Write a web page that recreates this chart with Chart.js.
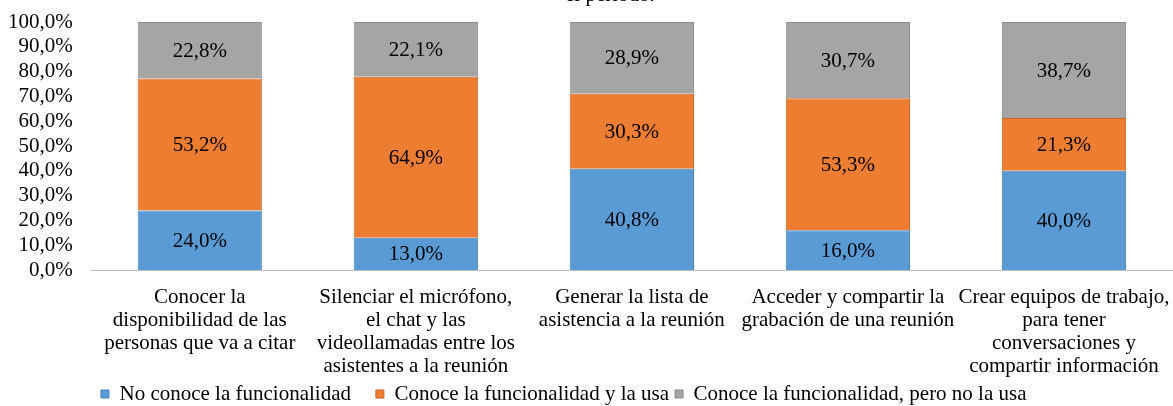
<!DOCTYPE html>
<html>
<head>
<meta charset="utf-8">
<script src="https://cdn.jsdelivr.net/npm/chart.js@4/dist/chart.umd.min.js"></script>
<style>
  html, body { margin: 0; padding: 0; background: #fff; overflow: hidden; }
  #wrap { position: relative; width: 1173px; height: 406px; overflow: hidden; }
  #title { position: absolute; left: 565px; top: -16px; line-height: 21px; white-space: nowrap;
           font-family: "Liberation Serif", serif; font-size: 21px; color: #000; }
  canvas { position: absolute; left: 0; top: 0; }
</style>
</head>
<body>
<div id="wrap">
  <canvas id="c" width="1173" height="406"></canvas>
  <div id="title">el periodo.</div>
</div>
<script>
const categories = [
  ["Conocer la", "disponibilidad de las", "personas que va a citar"],
  ["Silenciar el micrófono,", "el chat y las", "videollamadas entre los", "asistentes a la reunión"],
  ["Generar la lista de", "asistencia a la reunión"],
  ["Acceder y compartir la", "grabación de una reunión"],
  ["Crear equipos de trabajo,", "para tener", "conversaciones y", "compartir información"]
];
const seriesNames = ["No conoce la funcionalidad", "Conoce la funcionalidad y la usa", "Conoce la funcionalidad, pero no la usa"];
const noConoce = [24.0, 13.0, 40.8, 16.0, 40.0];
const conoceUsa = [53.2, 64.9, 30.3, 53.3, 21.3];
const conoceNoUsa = [22.8, 22.1, 28.9, 30.7, 38.7];
const yTicks = [0, 10, 20, 30, 40, 50, 60, 70, 80, 90, 100];

const FONT = "'Liberation Serif', 'Times New Roman', serif";
const FS = 21;
const fmt = v => v.toFixed(1).replace('.', ',') + '%';
const legendGap = ['\u2002\u2009\u2009', '', '\u2002\u2002\u2002\u2002\u2002'];

const labelPlugin = {
  id: 'segLabels',
  afterDatasetsDraw(chart) {
    const ctx = chart.ctx;
    ctx.save();
    ctx.font = FS + "px " + FONT;
    ctx.fillStyle = '#000';
    ctx.textAlign = 'center';
    ctx.textBaseline = 'middle';
    chart.data.datasets.forEach((ds, i) => {
      const meta = chart.getDatasetMeta(i);
      meta.data.forEach((el, j) => {
        const y = (el.y + el.base) / 2;
        ctx.fillText(fmt(ds.data[j]), el.x, y + 1);
      });
    });
    ctx.restore();
  }
};

new Chart(document.getElementById('c'), {
  type: 'bar',
  data: {
    labels: categories,
    datasets: [
      { label: seriesNames[0], data: noConoce, backgroundColor: '#5B9BD5', borderColor: '#4A82B6', borderWidth: 1 },
      { label: seriesNames[1], data: conoceUsa, backgroundColor: '#ED7D31', borderColor: '#C96624', borderWidth: 1 },
      { label: seriesNames[2], data: conoceNoUsa, backgroundColor: '#A5A5A5', borderColor: '#8A8A8A', borderWidth: 1 }
    ]
  },
  options: {
    responsive: false,
    animation: false,
    layout: { padding: { left: 8, right: 1, top: 22, bottom: -8.5 } },
    datasets: { bar: { categoryPercentage: 1, barPercentage: 0.575 } },
    plugins: {
      legend: {
        position: 'bottom',
        labels: {
          boxWidth: 8, boxHeight: 8, padding: 6,
          color: '#000',
          font: { family: FONT, size: FS },
          generateLabels(chart) {
            const items = Chart.defaults.plugins.legend.labels.generateLabels(chart);
            items.forEach((it, i) => {
              it.lineWidth = 1;
              it.text = it.text + legendGap[i];
            });
            return items;
          }
        }
      },
      tooltip: { enabled: false }
    },
    scales: {
      x: {
        stacked: true,
        grid: { display: false, drawTicks: true, tickLength: 15.5 },
        border: { display: true, color: '#BFBFBF', width: 1 },
        ticks: { color: '#000', font: { family: FONT, size: FS, lineHeight: '23px' }, maxRotation: 0, autoSkip: false, padding: 0 }
      },
      y: {
        stacked: true,
        min: 0, max: 100,
        afterBuildTicks(axis) { axis.ticks = yTicks.map(v => ({ value: v })); },
        grid: { display: false, drawTicks: true, tickLength: 19 },
        border: { display: false },
        ticks: { color: '#000', font: { family: FONT, size: FS, lineHeight: 1 }, padding: 0, autoSkip: false, callback: v => fmt(v) }
      }
    }
  },
  plugins: [labelPlugin]
});
</script>
</body>
</html>
